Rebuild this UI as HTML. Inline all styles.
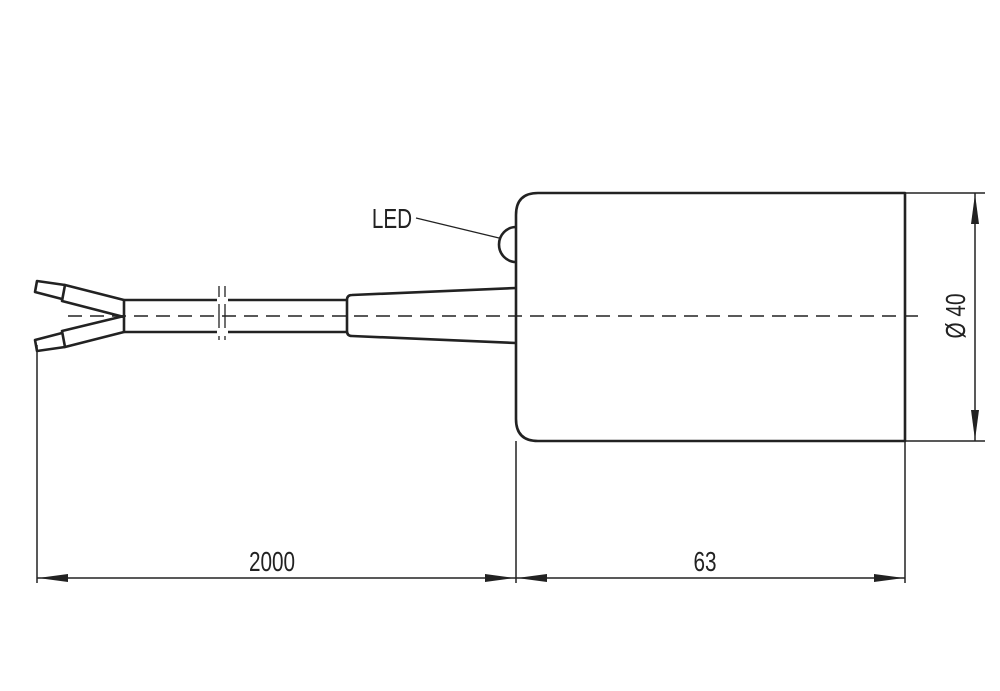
<!DOCTYPE html>
<html><head><style>body{margin:0;background:#fff}svg{display:block}text{font-family:"Liberation Sans",sans-serif;fill:#222}</style></head>
<body>
<svg width="1000" height="691" viewBox="0 0 1000 691" xmlns="http://www.w3.org/2000/svg">
<g fill="none" stroke="#222" stroke-width="2.6" stroke-linejoin="round">
<path d="M538,193 H905 V441 H538 Q516,441 516,419 V215 Q516,193 538,193 Z"/>
<path d="M516,227 A17,17.5 0 0 0 516,262"/>
<path d="M516,288 L352,295 Q347,295 347,300 V331 Q347,336 352,336 L516,343"/>
<path d="M124,300 H217 M228,300 H347 M124,332 H217 M228,332 H347 M124,300 V332"/>
<path d="M124,300 L65,285 L62,301 L124,317"/>
<path d="M65,285 L37,281 L35,292 L62,299"/>
<path d="M124,332 L65,347 L62,331 L124,316"/>
<path d="M65,347 L37,351 L35,340 L62,333"/>
</g>
<g stroke="#222" stroke-width="1.5" fill="none">
<path d="M219,286 V297 M225,286 V297 M219,304 V328 M225,304 V328 M219,336 V340 M225,336 V340" stroke-width="1.3"/>
<path d="M68,316 H918" stroke-dasharray="14,8"/>
<path d="M416,218 L499,238" stroke-width="1.3"/>
<path d="M37,345 V583 M516,441 V583 M905,441 V583 M905,193 H985 M905,441 H985"/>
<path d="M37,578 H905 M975,193 V441"/>
</g>
<g fill="#222">
<path d="M38,578 L68,574 L68,582 Z"/>
<path d="M515,578 L485,574 L485,582 Z"/>
<path d="M517,578 L547,574 L547,582 Z"/>
<path d="M904,578 L874,574 L874,582 Z"/>
<path d="M975,194 L971,224 L979,224 Z"/>
<path d="M975,440 L971,410 L979,410 Z"/>
</g>
<text x="392" y="228" font-size="28" text-anchor="middle" transform="translate(392 0) scale(0.74 1) translate(-392 0)">LED</text>
<text x="272" y="571" font-size="28" text-anchor="middle" transform="translate(272 0) scale(0.74 1) translate(-272 0)">2000</text>
<text x="705" y="571" font-size="28" text-anchor="middle" transform="translate(705 0) scale(0.74 1) translate(-705 0)">63</text>
<text font-size="28" text-anchor="middle" transform="translate(965 316) rotate(-90) scale(0.74 1)">Ø 40</text>
</svg>
</body></html>
